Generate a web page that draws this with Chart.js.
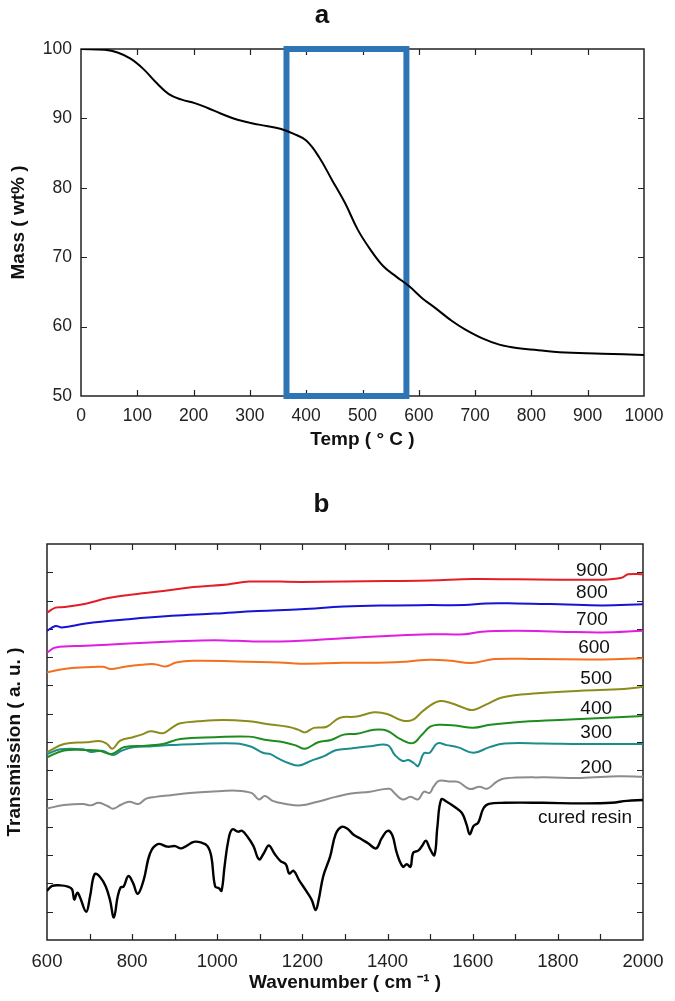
<!DOCTYPE html>
<html lang="en">
<head>
<meta charset="utf-8">
<title>TGA and FTIR</title>
<script src="https://cdn.jsdelivr.net/npm/chart.js"></script>
<style>
  body { margin: 0; background: #fff; }
  canvas { position: absolute; left: 0; }
  #chartA { top: 0; }
  #chartB { top: 470px; }
</style>
</head>
<body>
<canvas id="chartA" width="675" height="470"></canvas>
<canvas id="chartB" width="675" height="531"></canvas>
<script>
// ---- panel a : TGA ----
var tempC   = [0, 42, 65, 88, 111, 133, 156, 179, 202, 225, 248, 278, 316, 354, 377, 400, 423, 446, 469, 492, 514, 537, 560, 583, 606, 629, 659, 682, 713, 743, 774, 812, 850, 926, 1000];
var massPct = [100, 99.9, 99.5, 98.6, 97.1, 95.2, 93.5, 92.7, 92.2, 91.5, 90.7, 89.8, 89.1, 88.5, 87.8, 86.8, 84.4, 81.1, 77.8, 73.9, 71.1, 68.7, 67.2, 65.8, 64.1, 62.7, 60.8, 59.6, 58.3, 57.4, 56.9, 56.6, 56.3, 56.1, 55.9];
var boxTemp = [365, 578];
var boxMass = [50, 100];

// ---- panel b : FTIR (wavenumber / stacked transmission) ----
var resinX = [600,612,631,649,659,664,671,677,692,701,712,725,738,748,757,766,773,780,791,802,813,827,842,860,883,901,914,927,945,963,977,986,995,1004,1010,1017,1026,1035,1049,1058,1071,1085,1098,1109,1121,1134,1148,1161,1169,1179,1192,1210,1222,1231,1238,1249,1265,1278,1292,1305,1321,1336,1355,1373,1386,1400,1411,1422,1436,1445,1454,1460,1472,1481,1490,1499,1510,1517,1526,1539,1557,1575,1586,1593,1602,1613,1625,1638,1674,1764,1854,1926,1962,2000];
var resinY = [1.74,1.91,1.93,1.89,1.79,1.43,1.67,1.53,1.00,1.53,2.33,2.22,1.89,1.41,0.80,1.53,1.86,1.89,2.26,2.02,1.63,2.12,3.06,3.39,3.30,3.32,3.24,3.32,3.47,3.44,3.32,2.95,1.89,1.83,1.74,2.59,3.53,3.91,3.83,3.86,3.65,3.32,2.85,3.06,3.34,3.06,2.80,2.68,2.35,2.45,2.12,1.71,1.41,1.06,1.41,2.26,2.95,3.74,4.00,3.94,3.71,3.59,3.41,3.24,3.59,3.86,3.71,3.06,2.59,2.68,2.59,3.08,3.16,3.32,3.51,3.24,3.00,4.00,4.97,4.89,4.71,4.48,4.06,3.74,4.03,4.15,4.65,4.81,4.85,4.85,4.83,4.85,4.92,4.95];
var x200 = [600,640,685,703,721,743,755,775,793,815,833,855,891,936,981,1044,1080,1098,1112,1130,1161,1197,1233,1278,1314,1359,1404,1417,1435,1454,1472,1485,1499,1508,1521,1548,1566,1593,1616,1634,1656,1674,1764,1854,1944,2000];
var y200 = [4.65,4.77,4.81,4.76,4.85,4.73,4.64,4.79,4.89,4.81,5.00,5.06,5.12,5.20,5.24,5.28,5.20,4.97,5.09,4.92,4.81,4.76,4.88,5.06,5.18,5.24,5.35,5.18,4.97,5.06,4.97,5.24,5.20,5.42,5.63,5.60,5.59,5.34,5.42,5.35,5.59,5.71,5.75,5.73,5.79,5.77];
var x300 = [600,631,685,703,730,755,775,802,847,891,954,1044,1080,1107,1125,1143,1170,1192,1224,1251,1278,1314,1359,1400,1417,1435,1449,1463,1472,1485,1499,1517,1539,1566,1602,1638,1674,1764,1854,2000];
var y300 = [6.57,6.74,6.74,6.65,6.69,6.54,6.69,6.81,6.85,6.89,6.93,6.95,6.83,6.62,6.57,6.42,6.24,6.17,6.36,6.50,6.71,6.77,6.85,6.89,6.54,6.33,6.36,6.24,6.15,6.60,6.62,6.95,6.89,6.81,6.62,6.81,6.95,6.95,6.93,6.93];
var x400 = [600,640,691,721,752,782,832,873,913,994,1075,1116,1156,1186,1206,1237,1267,1297,1328,1368,1399,1429,1459,1479,1500,1520,1560,1601,1641,1702,1803,1904,2000];
var y400 = [6.46,6.70,6.72,6.70,6.58,6.82,6.87,6.93,7.11,7.17,7.19,7.07,6.99,6.87,6.76,6.99,7.07,7.26,7.29,7.43,7.40,7.11,6.96,7.23,7.54,7.61,7.58,7.50,7.61,7.70,7.78,7.85,7.92];
var x500 = [600,640,691,726,741,754,772,802,822,843,873,893,913,954,1014,1075,1116,1166,1191,1206,1227,1257,1287,1328,1368,1399,1434,1459,1484,1520,1550,1580,1601,1631,1671,1752,1853,1954,2000];
var y500 = [6.64,6.93,6.99,7.03,6.93,6.76,7.05,7.17,7.26,7.38,7.31,7.50,7.66,7.73,7.78,7.73,7.64,7.54,7.43,7.34,7.50,7.54,7.85,7.90,8.05,7.99,7.76,7.78,8.11,8.44,8.37,8.20,8.13,8.32,8.58,8.72,8.81,8.87,8.95];
var x600 = [600,640,691,731,750,782,822,853,878,903,944,1045,1146,1196,1297,1399,1449,1500,1550,1596,1651,1752,1904,2000];
var y600 = [9.46,9.58,9.64,9.66,9.58,9.66,9.73,9.75,9.67,9.81,9.87,9.85,9.81,9.77,9.80,9.81,9.85,9.91,9.87,9.79,9.93,9.93,9.92,9.96];
var x700 = [600,620,691,792,893,994,1095,1196,1297,1399,1500,1580,1621,1702,1803,1904,2000];
var y700 = [10.16,10.34,10.40,10.48,10.55,10.60,10.55,10.58,10.67,10.75,10.81,10.81,10.90,10.93,10.90,10.87,10.93];
var x800 = [600,620,635,691,792,893,994,1095,1196,1297,1399,1500,1580,1631,1702,1803,1904,2000];
var y800 = [10.93,11.10,11.05,11.19,11.34,11.46,11.54,11.63,11.69,11.79,11.83,11.84,11.84,11.90,11.90,11.87,11.83,11.87];
var x900 = [600,620,640,691,741,792,873,944,1024,1075,1196,1297,1399,1500,1601,1702,1803,1904,1950,1965,2000];
var y900 = [11.57,11.75,11.77,11.89,12.08,12.20,12.34,12.48,12.57,12.67,12.66,12.67,12.69,12.71,12.76,12.75,12.74,12.74,12.81,12.93,12.93];

var curveLabels = ['900', '800', '700', '600', '500', '400', '300', '200', 'cured resin'];
var labelWn     = [1880, 1880, 1880, 1885, 1890, 1890, 1890, 1890, 1864];
var labelLevel  = [13.05, 12.27, 11.31, 10.33, 9.22, 8.16, 7.33, 6.08, 4.31];

var FONT = '"Liberation Sans", Arial, Helvetica, sans-serif';

function pts(xs, ys) {
  return xs.map(function (x, i) { return {x: x, y: ys[i]}; });
}

// box frame + inward tick marks on all four sides
var frameTicks = {
  id: 'frameTicks',
  beforeDatasetsDraw: function (chart) {
    var ctx = chart.ctx, a = chart.chartArea, sx = chart.scales.x, sy = chart.scales.y;
    ctx.save();
    ctx.strokeStyle = '#222';
    ctx.lineWidth = 1.5;
    ctx.strokeRect(a.left, a.top, a.right - a.left, a.bottom - a.top);
    ctx.lineWidth = 1.2;
    ctx.beginPath();
    sx.ticks.forEach(function (t) {
      if (t.value <= sx.min || t.value >= sx.max) return;
      var px = Math.round(sx.getPixelForValue(t.value)) + 0.5;
      ctx.moveTo(px, a.bottom); ctx.lineTo(px, a.bottom - 6);
      ctx.moveTo(px, a.top); ctx.lineTo(px, a.top + 6);
    });
    sy.ticks.forEach(function (t) {
      if (t.value <= sy.min || t.value >= sy.max) return;
      var py = Math.round(sy.getPixelForValue(t.value)) + 0.5;
      ctx.moveTo(a.left, py); ctx.lineTo(a.left + 6, py);
      ctx.moveTo(a.right, py); ctx.lineTo(a.right - 6, py);
    });
    ctx.stroke();
    ctx.restore();
  }
};

// sample names next to the spectra
var spectraLabels = {
  id: 'spectraLabels',
  afterDatasetsDraw: function (chart) {
    var ctx = chart.ctx, sx = chart.scales.x, sy = chart.scales.y;
    ctx.save();
    ctx.fillStyle = '#111';
    ctx.font = '19px ' + FONT;
    ctx.textAlign = 'center';
    ctx.textBaseline = 'middle';
    curveLabels.forEach(function (txt, i) {
      ctx.fillText(txt, sx.getPixelForValue(labelWn[i]), sy.getPixelForValue(labelLevel[i]));
    });
    ctx.restore();
  }
};

var lineBase = {pointRadius: 0, fill: false, tension: 0.4};
var noGrid = {display: false, drawTicks: false};

new Chart(document.getElementById('chartA'), {
  type: 'line',
  data: {
    datasets: [
      Object.assign({data: pts(tempC, massPct), borderColor: '#000', borderWidth: 2}, lineBase),
      {
        data: [
          {x: boxTemp[0], y: boxMass[0]}, {x: boxTemp[0], y: boxMass[1]},
          {x: boxTemp[1], y: boxMass[1]}, {x: boxTemp[1], y: boxMass[0]},
          {x: boxTemp[0], y: boxMass[0]}
        ],
        borderColor: '#2E75B6', borderWidth: 6, pointRadius: 0, tension: 0,
        borderJoinStyle: 'miter', borderCapStyle: 'square', clip: false, fill: false
      }
    ]
  },
  options: {
    responsive: false,
    animation: false,
    layout: {padding: {left: 0, top: 0, right: 31, bottom: 19}},
    plugins: {
      legend: {display: false},
      tooltip: {enabled: false},
      title: {display: true, text: 'a', color: '#111',
              font: {family: FONT, size: 26, weight: 'bold'},
              padding: {top: 0, bottom: 17.8}}
    },
    scales: {
      x: {
        type: 'linear', min: 0, max: 1000,
        afterFit: function (s) { s.height = 55; },
        grid: noGrid, border: {display: false},
        ticks: {stepSize: 100, autoSkip: false, maxRotation: 0, padding: 10, color: '#222',
                font: {family: FONT, size: 17.5},
                callback: function (v) { return String(v); }},
        title: {display: true, text: 'Temp ( \u00B0 C )', color: '#111',
                font: {family: FONT, size: 19, weight: 'bold'}, padding: {top: 0, bottom: 0}}
      },
      y: {
        type: 'linear', min: 50, max: 100,
        afterFit: function (s) { s.width = 81; },
        grid: noGrid, border: {display: false},
        ticks: {stepSize: 10, padding: 9, color: '#222',
                font: {family: FONT, size: 17.5},
                callback: function (v) { return String(v); }},
        title: {display: true, text: 'Mass ( wt% )', color: '#111',
                font: {family: FONT, size: 19, weight: 'bold'}, padding: {top: 7.5, bottom: 0}}
      }
    }
  },
  plugins: [frameTicks]
});

new Chart(document.getElementById('chartB'), {
  type: 'line',
  data: {
    datasets: [
      Object.assign({data: pts(x900, y900), borderColor: '#E41E26', borderWidth: 2}, lineBase),
      Object.assign({data: pts(x800, y800), borderColor: '#1414D2', borderWidth: 2}, lineBase),
      Object.assign({data: pts(x700, y700), borderColor: '#E01EE0', borderWidth: 2}, lineBase),
      Object.assign({data: pts(x600, y600), borderColor: '#F2701E', borderWidth: 2}, lineBase),
      Object.assign({data: pts(x500, y500), borderColor: '#8C8C1C', borderWidth: 2}, lineBase),
      Object.assign({data: pts(x400, y400), borderColor: '#1E8C1E', borderWidth: 2}, lineBase),
      Object.assign({data: pts(x300, y300), borderColor: '#1E8C8C', borderWidth: 2}, lineBase),
      Object.assign({data: pts(x200, y200), borderColor: '#8C8C8C', borderWidth: 2}, lineBase),
      Object.assign({data: pts(resinX, resinY), borderColor: '#000', borderWidth: 2.4}, lineBase)
    ]
  },
  options: {
    responsive: false,
    animation: false,
    layout: {padding: {left: 0, top: 0, right: 32, bottom: 7}},
    plugins: {
      legend: {display: false},
      tooltip: {enabled: false},
      title: {display: true, text: 'b', color: '#111',
              font: {family: FONT, size: 26, weight: 'bold'},
              padding: {top: 19.4, bottom: 23.4}}
    },
    scales: {
      x: {
        type: 'linear', min: 600, max: 2000,
        afterFit: function (s) { s.height = 54; },
        grid: noGrid, border: {display: false},
        ticks: {stepSize: 100, autoSkip: false, maxRotation: 0, padding: 11, color: '#222',
                font: {family: FONT, size: 18.5},
                callback: function (v) { return v % 200 === 0 ? String(v) : ''; }},
        title: {display: true, text: 'Wavenumber ( cm \u207B\u00B9 )', color: '#111',
                font: {family: FONT, size: 19, weight: 'bold'}, padding: {top: 0, bottom: 0}}
      },
      y: {
        type: 'linear', min: 0, max: 14,
        afterFit: function (s) { s.width = 47; },
        grid: noGrid, border: {display: false},
        ticks: {stepSize: 1, display: false},
        title: {display: true, text: 'Transmission ( a. u. )', color: '#111',
                font: {family: FONT, size: 19, weight: 'bold'}, padding: {top: 3.6, bottom: 0}}
      }
    }
  },
  plugins: [frameTicks, spectraLabels]
});
</script>
</body>
</html>
